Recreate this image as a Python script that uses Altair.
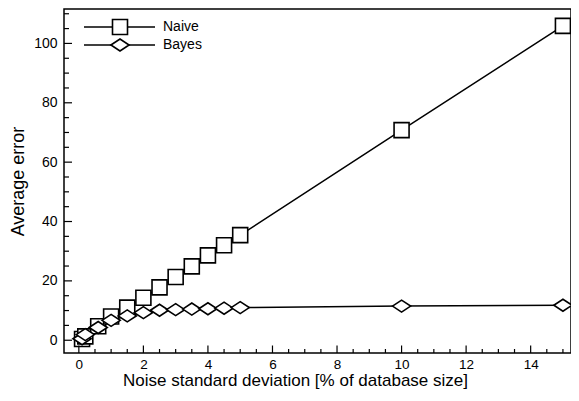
import altair as alt
import pandas as pd

# ---- data ----
noise = [0.1, 0.2, 0.6, 1, 1.5, 2, 2.5, 3, 3.5, 4, 4.5, 5, 10, 15]
naive = [0.4, 1.3, 4.7, 8.0, 11.0, 14.3, 17.8, 21.3, 24.9, 28.6, 32.0, 35.4, 70.8, 105.9]
bayes = [0.5, 1.9, 4.3, 6.7, 8.2, 9.3, 10.1, 10.3, 10.5, 10.6, 10.8, 11.0, 11.5, 11.8]
series = ["Naive", "Bayes"]

x_major = [0, 2, 4, 6, 8, 10, 12, 14]
x_minor = [0.5, 1, 1.5, 2.5, 3, 3.5, 4.5, 5, 5.5, 6.5, 7, 7.5, 8.5, 9, 9.5,
           10.5, 11, 11.5, 12.5, 13, 13.5, 14.5, 15]
y_major = [0, 20, 40, 60, 80, 100]
y_minor = [5, 10, 15, 25, 30, 35, 45, 50, 55, 65, 70, 75, 85, 90, 95, 105, 110]

FONT = "Liberation Sans"
W, H = 507, 344
DIAMOND = "M-1,0L0,-0.66L1,0L0,0.66Z"

df = pd.DataFrame({
    "x": noise * 2,
    "y": naive + bayes,
    "series": [series[0]] * len(noise) + [series[1]] * len(noise),
})

xscale = alt.Scale(domain=[-0.46, 15.25], nice=False, zero=False)
yscale = alt.Scale(domain=[-4.3, 111.6], nice=False, zero=False)

xaxis = alt.Axis(values=x_major, ticks=False, tickSize=0, domain=False, grid=False,
                 labelFont=FONT, labelFontSize=13.5, labelColor="black", labelPadding=4,
                 title="Noise standard deviation [% of database size]",
                 titleFont=FONT, titleFontSize=17, titleFontWeight="normal",
                 titleColor="black", titleBaseline="alphabetic", titleY=32, titleX=231)
yaxis = alt.Axis(values=y_major, ticks=False, tickSize=0, domain=False, grid=False,
                 labelFont=FONT, labelFontSize=14, labelColor="black", labelPadding=7,
                 title="Average error", titleFont=FONT, titleFontSize=18,
                 titleFontWeight="normal", titleColor="black", titlePadding=6)

shape_scale = alt.Scale(domain=series, range=["square", DIAMOND])

lines = alt.Chart(df).mark_line(color="black", strokeWidth=1.5).encode(
    x=alt.X("x:Q", scale=xscale, axis=xaxis),
    y=alt.Y("y:Q", scale=yscale, axis=yaxis),
    detail="series:N",
)

pts = alt.Chart(df).mark_point(filled=True, fill="white", stroke="black",
                               strokeWidth=1.6, opacity=1).encode(
    x=alt.X("x:Q", scale=xscale, axis=xaxis),
    y=alt.Y("y:Q", scale=yscale, axis=yaxis),
    shape=alt.Shape("series:N", scale=shape_scale, legend=None),
    size=alt.Size("series:N", scale=alt.Scale(domain=series, range=[225, 330]), legend=None),
)

def xticks(vals, length):
    return alt.Chart(pd.DataFrame({"x": vals})).mark_rule(color="black", strokeWidth=1.2).encode(
        x=alt.X("x:Q", scale=xscale, axis=xaxis),
        y=alt.value(H), y2=alt.value(H - length),
    )

def yticks(vals, length):
    return alt.Chart(pd.DataFrame({"y": vals})).mark_rule(color="black", strokeWidth=1.2).encode(
        y=alt.Y("y:Q", scale=yscale, axis=yaxis),
        x=alt.value(0), x2=alt.value(length),
    )

def legend_item(name, shape, size, ypos):
    d = pd.DataFrame({"label": [name]})
    line = alt.Chart(d).mark_rule(color="black", strokeWidth=1.5).encode(
        x=alt.value(20), x2=alt.value(91), y=alt.value(ypos))
    sym = alt.Chart(d).mark_point(shape=shape, size=size, filled=True, fill="white",
                                  stroke="black", strokeWidth=1.6, opacity=1).encode(
        x=alt.value(56), y=alt.value(ypos))
    txt = alt.Chart(d).mark_text(align="left", baseline="middle", font=FONT,
                                 fontSize=14, color="black").encode(
        x=alt.value(99), y=alt.value(ypos), text="label:N")
    return [line, sym, txt]

layers = [lines, pts,
          xticks(x_major, 7.5), xticks(x_minor, 4),
          yticks(y_major, 8), yticks(y_minor, 5)]
layers += legend_item("Naive", "square", 225, 18)
layers += legend_item("Bayes", DIAMOND, 330, 36)

chart = alt.layer(*layers).properties(
    width=W, height=H,
    autosize=alt.AutoSizeParams(type="none"),
    padding={"left": 56, "top": 1, "right": 0, "bottom": 36},
).configure_view(stroke="black", strokeWidth=1.5)

chart.save("out.html", embed_options={"renderer": "svg", "actions": False})
